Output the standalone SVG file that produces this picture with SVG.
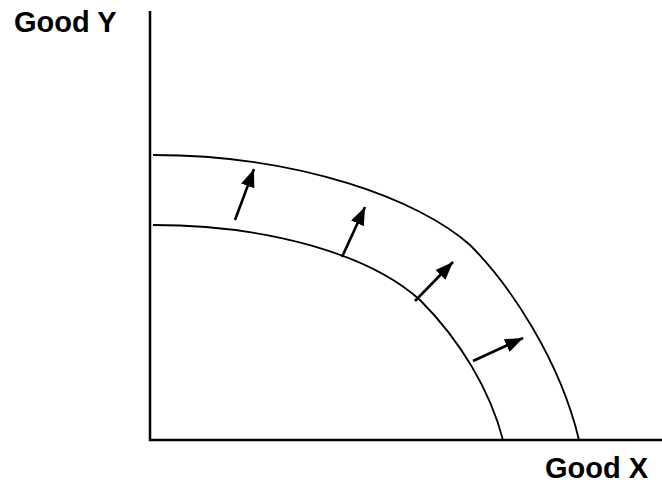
<svg xmlns="http://www.w3.org/2000/svg" width="662" height="485" viewBox="0 0 662 485">
<style>
.lbl{font-family:"Liberation Sans",Arial,sans-serif;font-weight:bold;font-size:29px;fill:#000}
.axis{stroke:#000;stroke-width:2.5;fill:none}
.curve{stroke:#000;stroke-width:1.8;fill:none}
.arr{stroke:#000;stroke-width:2.6;fill:none;marker-end:url(#ah)}
</style>
<defs>
<marker id="ah" markerUnits="userSpaceOnUse" viewBox="0 0 18 14" refX="18" refY="7" markerWidth="18" markerHeight="14" orient="auto">
<path d="M0,0 L18,7 L0,14 Z" fill="#000"/>
</marker>
</defs>
<g id="axes">
<line class="axis" x1="150" y1="11" x2="150" y2="441"/>
<line class="axis" x1="149" y1="440" x2="662" y2="440"/>
</g>
<g id="outer-curve">
<path class="curve" d="M153,155 C300,155 420,200 470,245 C510,285 560,360 579,440"/>
</g>
<g id="inner-curve">
<path class="curve" d="M153,225 C270,225 370,255 420,300 C460,340 490,390 503,440"/>
</g>
<g id="connectors">
<line class="arr" x1="235" y1="220" x2="254" y2="169"/>
<line class="arr" x1="342" y1="257" x2="365" y2="207"/>
<line class="arr" x1="415" y1="301" x2="453" y2="262"/>
<line class="arr" x1="473" y1="361" x2="523" y2="338"/>
</g>
<g id="label-y"><text class="lbl" x="14" y="32">Good Y</text></g>
<g id="label-x"><text class="lbl" x="545" y="478">Good X</text></g>
</svg>
